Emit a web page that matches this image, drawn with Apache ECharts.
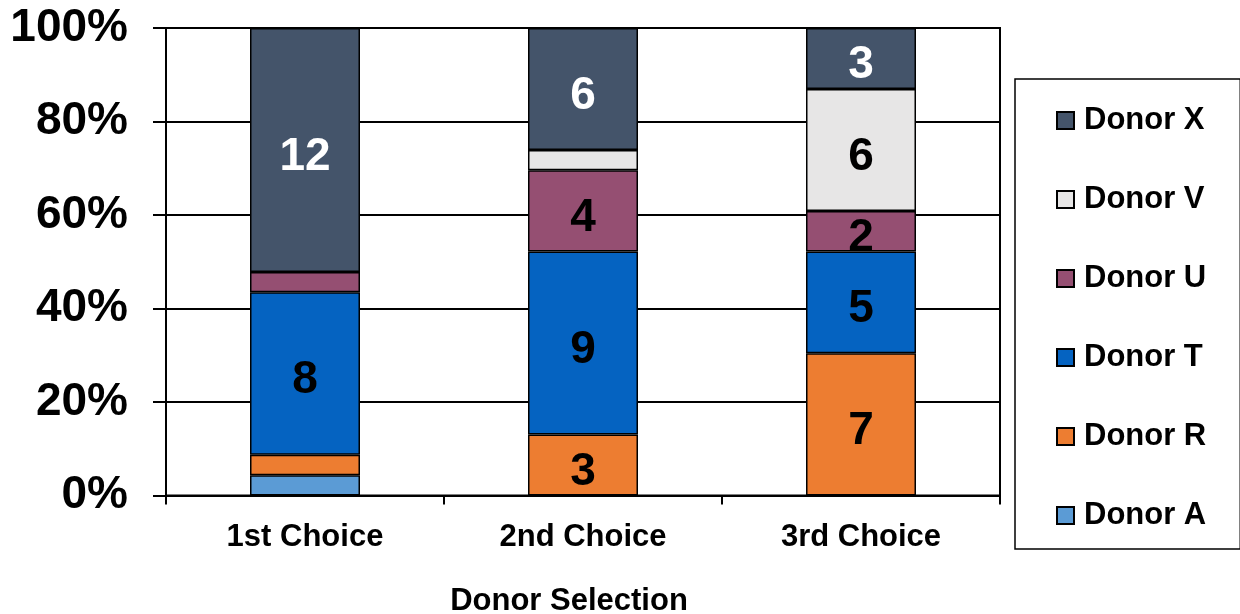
<!DOCTYPE html>
<html>
<head>
<meta charset="utf-8">
<style>
  html, body { margin: 0; padding: 0; background: #ffffff; }
  #chart { width: 1240px; height: 614px; }
</style>
<script src="https://cdn.jsdelivr.net/npm/echarts@6/dist/echarts.min.js"></script>
</head>
<body>
<div id="chart"></div>
<script>
// Donor counts per choice round; bars show each donor's share of the round total.
const categories = ['1st Choice', '2nd Choice', '3rd Choice'];
const donorA = [1, 0, 0];
const donorR = [1, 3, 7];
const donorT = [8, 9, 5];
const donorU = [1, 4, 2];
const donorV = [0, 1, 6];
const donorX = [12, 6, 3];
const yTicks = [0, 20, 40, 60, 80, 100];

const FONT = '"Liberation Sans", Arial, sans-serif';

const seriesDefs = [
  { name: 'Donor A', counts: donorA, color: '#5B9BD5', label: '#000000' },
  { name: 'Donor R', counts: donorR, color: '#ED7D31', label: '#000000' },
  { name: 'Donor T', counts: donorT, color: '#0563C1', label: '#000000' },
  { name: 'Donor U', counts: donorU, color: '#954F72', label: '#000000' },
  { name: 'Donor V', counts: donorV, color: '#E7E6E6', label: '#000000' },
  { name: 'Donor X', counts: donorX, color: '#44546A', label: '#ffffff' }
];

const totals = categories.map((_, i) =>
  seriesDefs.reduce((s, d) => s + d.counts[i], 0));

const series = seriesDefs.map(d => ({
  name: d.name,
  type: 'bar',
  stack: 'share',
  barWidth: 110,
  itemStyle: { color: d.color, borderColor: '#000000', borderWidth: 1.5 },
  label: {
    show: true,
    position: 'inside',
    offset: [0, 7],
    color: d.label,
    fontFamily: FONT,
    fontWeight: 'bold',
    fontSize: 46,
    formatter: p => (p.data.count >= 2 ? String(p.data.count) : '')
  },
  emphasis: { disabled: true },
  data: d.counts.map((c, i) => ({ value: c / totals[i] * 100, count: c }))
}));

const chart = echarts.init(document.getElementById('chart'), null, { renderer: 'canvas' });
chart.setOption({
  animation: false,
  backgroundColor: '#ffffff',
  grid: {
    left: 166, right: 240, top: 28, bottom: 118.5,
    outerBoundsMode: 'none',
    containLabel: false,
    show: true, borderColor: '#000000', borderWidth: 2, backgroundColor: 'transparent'
  },
  legend: {
    orient: 'vertical',
    left: 1015,
    top: 79,
    data: ['Donor X', 'Donor V', 'Donor U', 'Donor T', 'Donor R', 'Donor A'],
    icon: 'rect',
    itemWidth: 17,
    itemHeight: 17,
    itemGap: 48,
    padding: [26, 34, 18, 41],
    borderColor: '#000000',
    borderWidth: 1.5,
    selectedMode: false,
    textStyle: {
      fontFamily: FONT, fontWeight: 'bold', fontSize: 31, lineHeight: 30,
      color: '#000000', padding: [0, 0, 0, 5]
    }
  },
  xAxis: {
    type: 'category',
    data: categories,
    name: 'Donor Selection',
    nameLocation: 'middle',
    nameGap: 90,
    nameTextStyle: {
      fontFamily: FONT, fontWeight: 'bold', fontSize: 31, color: '#000000',
      padding: [0, 28, 0, 0]
    },
    axisLine: { lineStyle: { color: '#000000', width: 2 } },
    axisTick: { show: true, length: 9, lineStyle: { color: '#000000', width: 2 } },
    axisLabel: {
      fontFamily: FONT, fontWeight: 'bold', fontSize: 31, color: '#000000', margin: 26
    }
  },
  yAxis: {
    type: 'value',
    min: yTicks[0],
    max: yTicks[yTicks.length - 1],
    interval: yTicks[1] - yTicks[0],
    axisLine: { show: true, lineStyle: { color: '#000000', width: 2 } },
    axisTick: { show: true, length: 13, lineStyle: { color: '#000000', width: 2 } },
    splitLine: { show: true, lineStyle: { color: '#000000', width: 2 } },
    axisLabel: {
      formatter: '{value}%',
      fontFamily: FONT, fontWeight: 'bold', fontSize: 46, color: '#000000', margin: 38,
      padding: [6, 0, 0, 0]
    }
  },
  series: series
});
</script>
</body>
</html>
